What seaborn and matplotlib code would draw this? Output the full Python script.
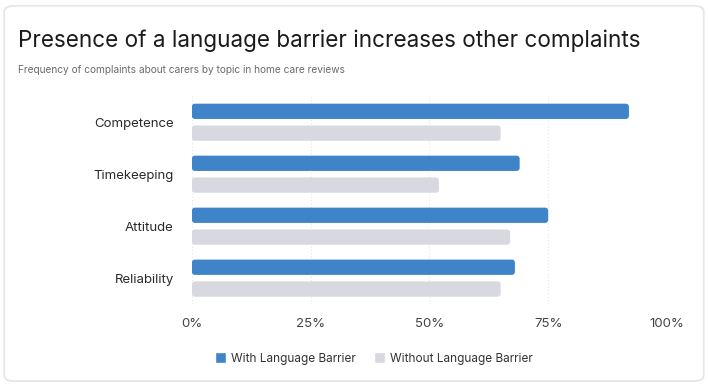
import pandas as pd
import seaborn as sns
from matplotlib import pyplot as plt
from matplotlib.patches import FancyBboxPatch

# Data
topics = ['Competence', 'Timekeeping', 'Attitude', 'Reliability']
with_barrier = [92, 69, 75, 68]
without_barrier = [65, 52, 67, 65]
groups = ['With Language Barrier', 'Without Language Barrier']
colors = ['#3f84c8', '#d8d9e0']

df = pd.DataFrame({
    'topic': topics * 2,
    'share': with_barrier + without_barrier,
    'group': [groups[0]] * len(topics) + [groups[1]] * len(topics),
})

sns.set_style('white')
plt.rcParams['font.family'] = ['Inter', 'DejaVu Sans']

fig = plt.figure(figsize=(7.08, 3.85), dpi=100)
fig.patch.set_facecolor('white')

# rounded card border, kept behind the axes
card = FancyBboxPatch((0.006, 0.01), 0.988, 0.975, boxstyle='round,pad=0,rounding_size=0.015',
                      transform=fig.transFigure, facecolor='white', edgecolor='#e3e4e8',
                      lw=1.2, zorder=-10)
fig.patches.append(card)

fig.text(0.025, 0.893, 'Presence of a language barrier increases other complaints',
         fontsize=16.2, color='#1b1b1b', va='center', ha='left')
fig.text(0.025, 0.818, 'Frequency of complaints about carers by topic in home care reviews',
         fontsize=7.3, color='#6b6b6b', va='center', ha='left')

ax = fig.add_axes([0.271, 0.21, 0.671, 0.54])
ax.patch.set_alpha(0)
sns.barplot(data=df, x='share', y='topic', hue='group', orient='h', palette=colors,
            width=0.84, gap=0.3, ax=ax, saturation=1)

ax.set_xlim(0, 100)

# swap the plain rectangles for slightly rounded ones
aspect = (1 / 52) / (100 / 475)
for bar in list(ax.patches):
    x, y = bar.get_x(), bar.get_y()
    w, h = bar.get_width(), bar.get_height()
    if w <= 0:
        continue
    rounded = FancyBboxPatch((x, y), w, h, boxstyle='round,pad=0,rounding_size=0.7',
                             mutation_aspect=aspect, facecolor=bar.get_facecolor(),
                             edgecolor='none', zorder=bar.get_zorder())
    bar.set_visible(False)
    ax.add_patch(rounded)

ax.set_xticks([0, 25, 50, 75, 100])
ax.set_xticklabels([f'{t}%' for t in [0, 25, 50, 75, 100]], fontsize=9.5, color='#444444')
ax.tick_params(axis='y', labelsize=9.5, labelcolor='#2a2a2a', length=0, pad=13)
ax.tick_params(axis='x', length=0, pad=10)
ax.set_xlabel('')
ax.set_ylabel('')
for s in ax.spines.values():
    s.set_visible(False)
ax.grid(axis='x', color='#e6e6ea', linestyle=(0, (1, 2)), lw=0.8)
ax.set_axisbelow(True)

handles = ax.get_legend_handles_labels()[0]
ax.legend(handles=handles, labels=groups, loc='upper center',
          bbox_to_anchor=(0.383, -0.18), ncol=2, frameon=False, fontsize=8.5,
          handlelength=1.0, handleheight=1.0, handletextpad=0.4, columnspacing=1.5,
          labelcolor='#333333')

fig.savefig('out.png', dpi=100)
